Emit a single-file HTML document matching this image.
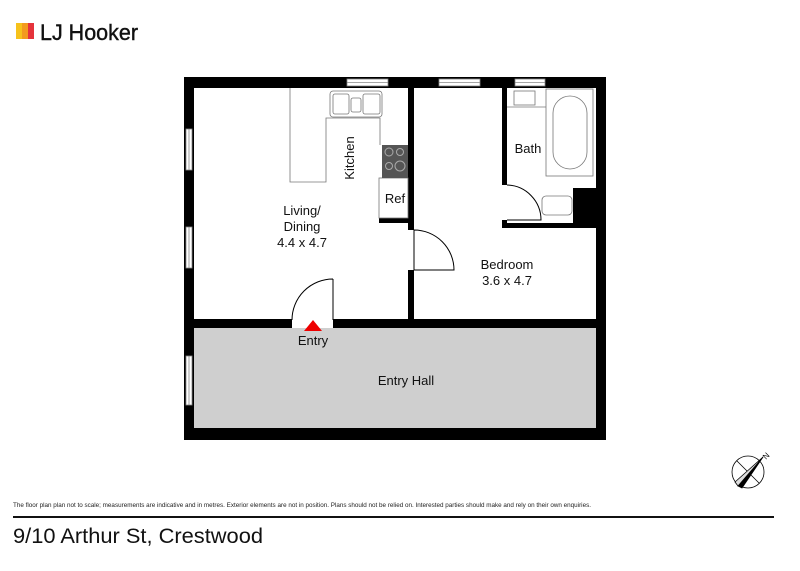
<!DOCTYPE html>
<html><head><meta charset="utf-8"><style>
body{margin:0;background:#fff;width:800px;height:566px;overflow:hidden;font-family:"Liberation Sans",Arial,sans-serif}
</style></head><body>
<svg width="800" height="566" viewBox="0 0 800 566" xmlns="http://www.w3.org/2000/svg" font-family="Liberation Sans, Arial, sans-serif">
<!-- logo -->
<rect x="16" y="23" width="6" height="16" fill="#f6c21b"/>
<rect x="22" y="23" width="6" height="16" fill="#f39a1e"/>
<rect x="28" y="23" width="6" height="16" fill="#e5333b"/>
<text x="40" y="40" font-size="22" fill="#111" textLength="98" lengthAdjust="spacingAndGlyphs" stroke="#111" stroke-width="0.4">LJ Hooker</text>
<!-- hall -->
<rect x="194" y="328" width="402" height="100" fill="#cfcfcf"/>
<!-- outer walls -->
<rect x="184" y="77" width="422" height="11" fill="#000"/>
<rect x="184" y="77" width="10" height="363" fill="#000"/>
<rect x="596" y="77" width="10" height="363" fill="#000"/>
<rect x="184" y="428" width="422" height="12" fill="#000"/>
<!-- middle wall -->
<rect x="194" y="319" width="98" height="9" fill="#000"/>
<rect x="333" y="319" width="263" height="9" fill="#000"/>
<!-- interior walls -->
<rect x="408" y="88" width="6" height="142" fill="#000"/>
<rect x="408" y="270" width="6" height="50" fill="#000"/>
<rect x="502" y="88" width="5" height="97" fill="#000"/>
<rect x="502" y="220" width="5" height="8" fill="#000"/>
<rect x="502" y="223" width="94" height="5" fill="#000"/>
<rect x="573" y="188" width="23" height="40" fill="#000"/>
<rect x="379" y="218" width="29" height="5" fill="#000"/>
<!-- windows -->
<g fill="#fff" stroke="#888" stroke-width="0.8">
<rect x="347" y="79" width="41" height="7"/><line x1="347" y1="82.5" x2="388" y2="82.5"/>
<rect x="439" y="79" width="41" height="7"/><line x1="439" y1="82.5" x2="480" y2="82.5"/>
<rect x="515" y="79" width="30" height="7"/><line x1="515" y1="82.5" x2="545" y2="82.5"/>
<rect x="186" y="129" width="6" height="41"/><line x1="189" y1="129" x2="189" y2="170"/>
<rect x="186" y="227" width="6" height="41"/><line x1="189" y1="227" x2="189" y2="268"/>
<rect x="186" y="356" width="6" height="49"/><line x1="189" y1="356" x2="189" y2="405"/>
</g>
<!-- kitchen -->
<g fill="none" stroke="#777" stroke-width="0.8">
<polyline points="290,88 290,182 326,182 326,118 380,118 380,145"/>
<rect x="330" y="91" width="52" height="26" rx="3"/>
<rect x="333" y="94" width="16" height="20" rx="2"/>
<rect x="351" y="98" width="10" height="14" rx="2"/>
<rect x="363" y="94" width="17" height="20" rx="2"/>
<rect x="379" y="178" width="29" height="40"/>
</g>
<rect x="382" y="145" width="26" height="33" fill="#555"/>
<g fill="none" stroke="#aaa" stroke-width="1"><circle cx="389" cy="152" r="4"/><circle cx="400" cy="152" r="3.5"/><circle cx="389" cy="166" r="3.5"/><circle cx="400" cy="166" r="5"/></g>
<!-- bath -->
<g fill="none" stroke="#777" stroke-width="0.8">
<rect x="546" y="89" width="47" height="87"/>
<rect x="553" y="96" width="34" height="73" rx="17"/>
<rect x="514" y="91" width="21" height="14"/>
<rect x="542" y="196" width="30" height="19" rx="4"/>
<line x1="507" y1="107" x2="546" y2="107"/>
</g>
<!-- doors -->
<g fill="none" stroke="#000" stroke-width="1">
<path d="M333,279 L333,320 M333,279 A41,41 0 0 0 292,320"/>
<path d="M414,230 L414,270 M414,230 A40,40 0 0 1 454,270 L414,270"/>
<path d="M507,185 A35,35 0 0 1 541,220 L507,220"/>
</g>
<polygon points="304,331 313,320 322,331" fill="#e00"/>
<!-- labels -->
<g font-size="13" fill="#111" text-anchor="middle">
<text x="302" y="215">Living/</text>
<text x="302" y="231">Dining</text>
<text x="302" y="247">4.4 x 4.7</text>
<text x="507" y="269">Bedroom</text>
<text x="507" y="285">3.6 x 4.7</text>
<text x="528" y="153">Bath</text>
<text x="395" y="203">Ref</text>
<text x="313" y="345">Entry</text>
<text x="406" y="385">Entry Hall</text>
<text transform="translate(354,158) rotate(-90)">Kitchen</text>
</g>
<!-- compass -->
<g transform="translate(748,472)" fill="none" stroke="#000" stroke-width="0.8">
<circle r="16"/><line x1="-11" y1="-11" x2="11" y2="11"/><line x1="-11" y1="11" x2="11" y2="-11"/>
<polygon points="15,-15 -10,14 -6,16" fill="#000"/>
<polygon points="15,-15 -13,10 -10,14" fill="#ddd"/>
</g>
<text x="764" y="459" font-size="8" transform="rotate(-45 766 457)">N</text>
<text x="13" y="507" font-size="6" fill="#222" textLength="578" lengthAdjust="spacingAndGlyphs">The floor plan plan not to scale; measurements are indicative and in metres. Exterior elements are not in position. Plans should not be relied on. Interested parties should make and rely on their own enquiries.</text>
<rect x="13" y="516" width="761" height="2" fill="#111"/>
<text x="13" y="543" font-size="21" fill="#111" textLength="250" lengthAdjust="spacingAndGlyphs">9/10 Arthur St, Crestwood</text>
</svg>
</body></html>
